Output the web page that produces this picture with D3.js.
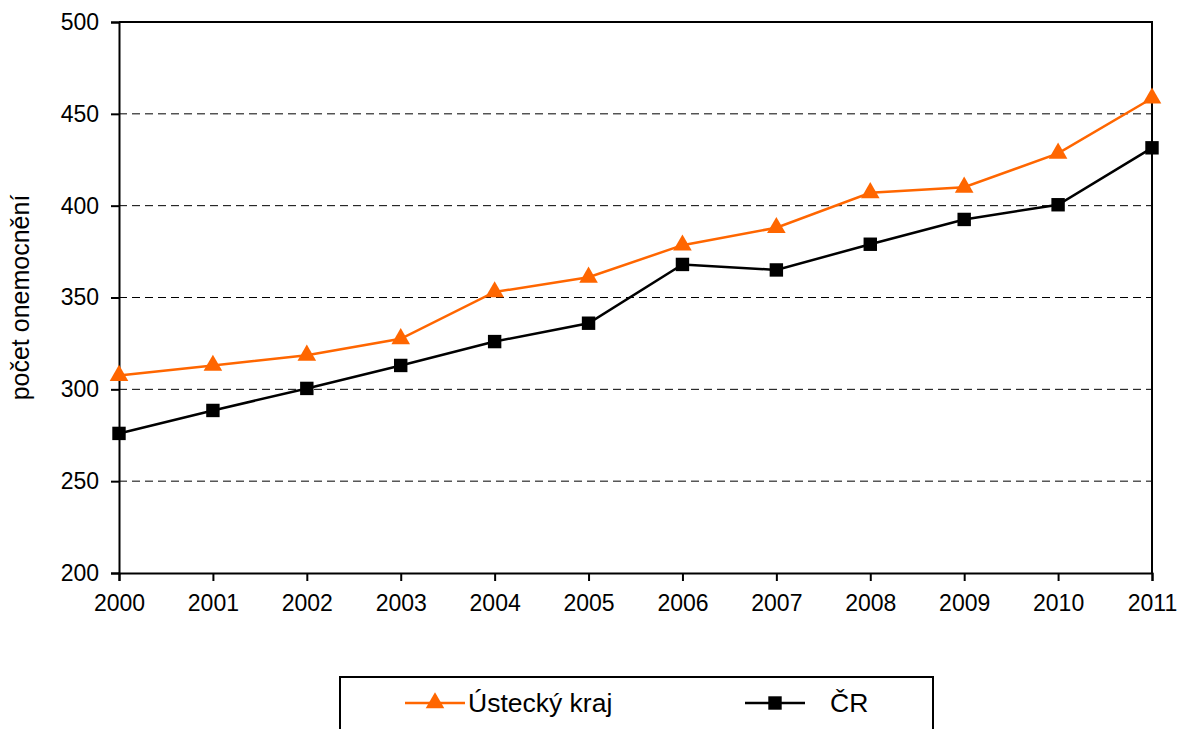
<!DOCTYPE html>
<html>
<head>
<meta charset="utf-8">
<script src="https://cdn.jsdelivr.net/npm/d3@7"></script>
<style>
  body { margin: 0; background: #fff; }
  svg text { font-family: "Liberation Sans", Arial, sans-serif; fill: #000; }
</style>
</head>
<body>
<div id="chart"></div>
<script>
// data
const years = ["2000", "2001", "2002", "2003", "2004", "2005", "2006", "2007", "2008", "2009", "2010", "2011"];
const usteckyKraj = [307.5, 313, 318.5, 327.5, 353, 361, 378.5, 388, 407, 410, 428.5, 458.5];
const cr = [276, 288.5, 300.5, 313, 326, 336, 368, 365, 379, 392.5, 400.5, 431.5];
const yTicks = [200, 250, 300, 350, 400, 450, 500];
const seriesNames = ["Ústecký kraj", "ČR"];

const W = 1181, H = 729;
const margin = { left: 119, right: 29, top: 22, bottom: 156 };

const svg = d3.select("#chart").append("svg")
    .attr("width", W)
    .attr("height", H);

const x = d3.scalePoint()
    .domain(years)
    .range([margin.left, W - margin.right]);

const y = d3.scaleLinear()
    .domain([200, 500])
    .range([H - margin.bottom, margin.top]);

// dashed grid
svg.append("g")
    .selectAll("line")
    .data(yTicks.filter(d => d > 200 && d < 500))
    .enter().append("line")
    .attr("x1", margin.left)
    .attr("x2", W - margin.right)
    .attr("y1", d => y(d))
    .attr("y2", d => y(d))
    .attr("stroke", "#000")
    .attr("stroke-width", 1)
    .attr("stroke-dasharray", "8,5");

// frame top / right
svg.append("path")
    .attr("d", `M${margin.left},${y(500)}H${W - margin.right}V${y(200)}`)
    .attr("fill", "none")
    .attr("stroke", "#000")
    .attr("stroke-width", 2);

// axes
const yAxis = svg.append("g")
    .attr("transform", `translate(${margin.left},0)`)
    .call(d3.axisLeft(y).tickValues(yTicks).tickSize(8).tickPadding(12));

const xAxis = svg.append("g")
    .attr("transform", `translate(0,${y(200)})`)
    .call(d3.axisBottom(x).tickSize(8).tickPadding(14));

[yAxis, xAxis].forEach(a => {
    a.select(".domain").attr("stroke", "#000").attr("stroke-width", 2);
    a.selectAll(".tick line").attr("stroke", "#000").attr("stroke-width", 2);
    a.selectAll("text").style("font-size", "23px").attr("fill", "#000");
});

// y axis title
svg.append("text")
    .attr("transform", `translate(29,${(y(200) + y(500)) / 2}) rotate(-90)`)
    .attr("text-anchor", "middle")
    .style("font-size", "25px")
    .text("počet onemocnění");

const series = [
    { name: seriesNames[0], values: usteckyKraj, color: "#FF6600", symbol: d3.symbolTriangle, size: 150 },
    { name: seriesNames[1], values: cr, color: "#000000", symbol: d3.symbolSquare, size: 180 }
];

const line = d3.line()
    .x((d, i) => x(years[i]))
    .y(d => y(d));

// draw ČR first so orange sits on top
series.slice().reverse().forEach(s => {
    svg.append("path")
        .datum(s.values)
        .attr("d", line)
        .attr("fill", "none")
        .attr("stroke", s.color)
        .attr("stroke-width", 2.5);

    svg.append("g")
        .selectAll("path")
        .data(s.values)
        .enter().append("path")
        .attr("transform", (d, i) => `translate(${x(years[i])},${y(d)})`)
        .attr("d", d3.symbol().type(s.symbol).size(s.size))
        .attr("fill", s.color);
});

// legend
const legend = svg.append("g");
legend.append("rect")
    .attr("x", 340)
    .attr("y", 677)
    .attr("width", 593)
    .attr("height", 80)
    .attr("fill", "#fff")
    .attr("stroke", "#000")
    .attr("stroke-width", 2);

const legendX = [405, 745];
series.forEach((s, i) => {
    const g = legend.append("g").attr("transform", `translate(${legendX[i]},703)`);
    g.append("line")
        .attr("x1", 0).attr("x2", 60)
        .attr("stroke", s.color)
        .attr("stroke-width", 2.5);
    g.append("path")
        .attr("transform", "translate(30,0)")
        .attr("d", d3.symbol().type(s.symbol).size(s.size))
        .attr("fill", s.color);
    g.append("text")
        .attr("x", i === 0 ? 63 : 85)
        .attr("dy", "0.35em")
        .style("font-size", "26.5px")
        .text(s.name);
});
</script>
</body>
</html>
